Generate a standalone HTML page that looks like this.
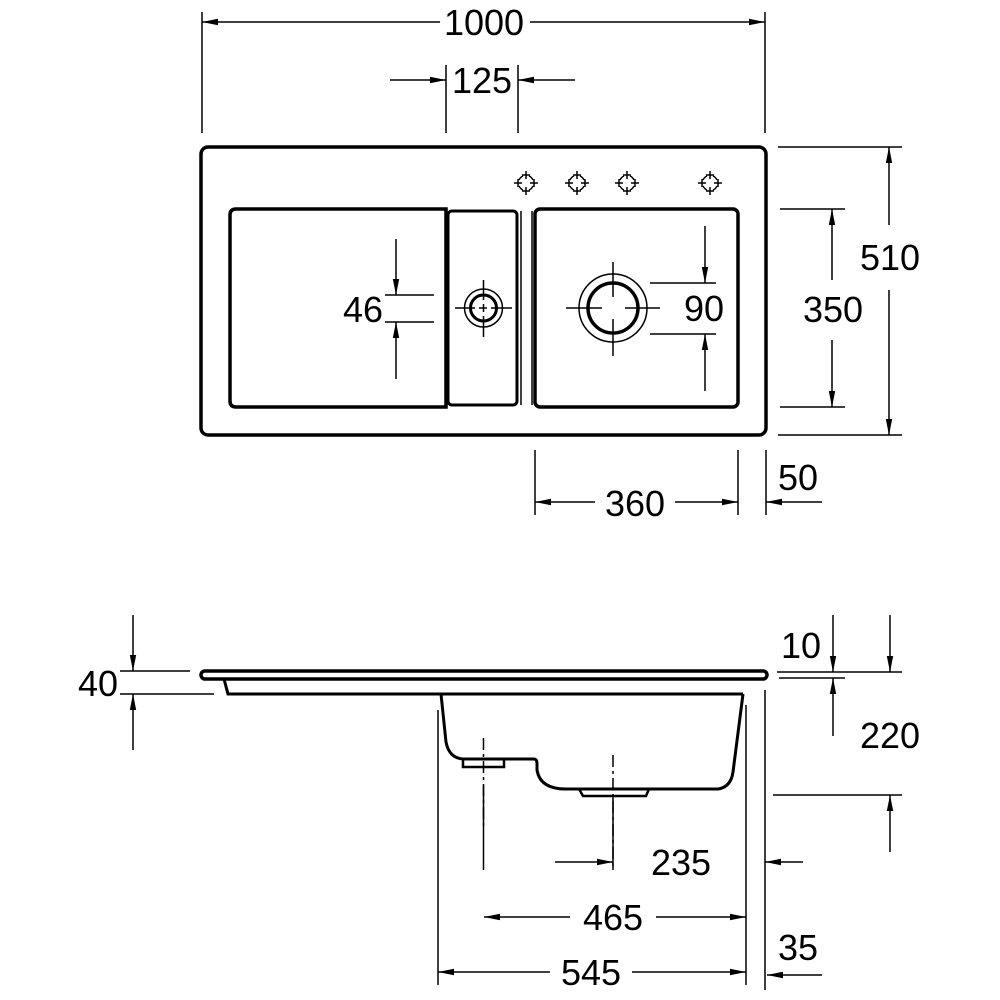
<!DOCTYPE html>
<html><head><meta charset="utf-8"><style>
html,body{margin:0;padding:0;background:#fff}
svg{display:block}
text{font-family:"Liberation Sans",Arial,sans-serif;font-size:36px;fill:#000}
</style></head><body>
<svg width="1000" height="1000" viewBox="0 0 1000 1000" xmlns="http://www.w3.org/2000/svg">
<defs>
<marker id="a" markerWidth="16" markerHeight="8" refX="16" refY="4" orient="auto" markerUnits="userSpaceOnUse">
<path d="M0,0.8 L16,4 L0,7.2 Z" fill="#000"/>
</marker>
</defs>
<g stroke="#000" fill="none" stroke-width="1.5">
<!-- top dims -->
<line x1="202" y1="12" x2="202" y2="133"/>
<line x1="765" y1="12" x2="765" y2="133"/>
<line x1="440" y1="22" x2="202" y2="22" marker-end="url(#a)"/>
<line x1="530" y1="22" x2="765" y2="22" marker-end="url(#a)"/>
<line x1="446" y1="65" x2="446" y2="133"/>
<line x1="518" y1="65" x2="518" y2="133"/>
<line x1="390" y1="80" x2="446" y2="80" marker-end="url(#a)"/>
<line x1="575" y1="80" x2="518" y2="80" marker-end="url(#a)"/>
<!-- top view -->
<rect x="201" y="147" width="565" height="288" rx="7" stroke-width="3.5"/>
<path d="M236,209 H446 V407 H236 Q230,407 230,401 V215 Q230,209 236,209 Z" stroke-width="3.5"/>
<rect x="448" y="211" width="69" height="194" rx="4" stroke-width="3"/>
<line x1="521" y1="211" x2="521" y2="405"/>
<line x1="532" y1="211" x2="532" y2="405"/>
<rect x="535" y="209" width="203" height="198" rx="5" stroke-width="3.5"/>
<!-- small drain -->
<circle cx="483.5" cy="308" r="19"/>
<circle cx="483.5" cy="308" r="13" stroke-width="3"/>
<line x1="455" y1="308" x2="512" y2="308" stroke-dasharray="20,4,8,4,30"/>
<line x1="483.5" y1="280" x2="483.5" y2="337" stroke-dasharray="20,4,8,4,30"/>
<!-- large drain -->
<circle cx="613" cy="308" r="34"/>
<circle cx="613" cy="308" r="25" stroke-width="3.5"/>
<line x1="566" y1="308" x2="602" y2="308"/>
<line x1="625" y1="308" x2="660" y2="308"/>
<line x1="613" y1="262" x2="613" y2="297"/>
<line x1="613" y1="319" x2="613" y2="356"/>
<!-- 46 -->
<line x1="385" y1="295" x2="434" y2="295"/>
<line x1="385" y1="322" x2="434" y2="322"/>
<line x1="396" y1="239" x2="396" y2="295" marker-end="url(#a)"/>
<line x1="396" y1="379" x2="396" y2="322" marker-end="url(#a)"/>
<!-- 90 -->
<line x1="650" y1="283" x2="716" y2="283"/>
<line x1="650" y1="334" x2="716" y2="334"/>
<line x1="705" y1="226" x2="705" y2="283" marker-end="url(#a)"/>
<line x1="705" y1="391" x2="705" y2="334" marker-end="url(#a)"/>
<!-- right dims -->
<line x1="778" y1="147" x2="902" y2="147"/>
<line x1="778" y1="435" x2="902" y2="435"/>
<line x1="889" y1="225" x2="889" y2="147" marker-end="url(#a)"/>
<line x1="889" y1="290" x2="889" y2="435" marker-end="url(#a)"/>
<line x1="780" y1="209" x2="845" y2="209"/>
<line x1="780" y1="407" x2="845" y2="407"/>
<line x1="832" y1="280" x2="832" y2="209" marker-end="url(#a)"/>
<line x1="832" y1="340" x2="832" y2="407" marker-end="url(#a)"/>
<!-- bottom dims top view -->
<line x1="535" y1="450" x2="535" y2="515"/>
<line x1="738" y1="450" x2="738" y2="515"/>
<line x1="766" y1="450" x2="766" y2="515"/>
<line x1="595" y1="502" x2="535" y2="502" marker-end="url(#a)"/>
<line x1="675" y1="502" x2="738" y2="502" marker-end="url(#a)"/>
<line x1="822" y1="502" x2="766" y2="502" marker-end="url(#a)"/>
<!-- side view -->
<rect x="201" y="671" width="566" height="8" rx="4" stroke-width="3.5"/>
<path d="M224,679 L228,694 H743" stroke-width="3"/>
<path d="M441,694 L446,742 Q449,758 463,759 H534 Q537,759 537,764 V770 Q540,789 566,789 H718 Q731,787 733,772 L743,694" stroke-width="3"/>
<rect x="463" y="759" width="41" height="8" stroke-width="2.5"/>
<path d="M579,789 L583,796 H646 L649,789" stroke-width="2.5"/>
<line x1="483.5" y1="738" x2="483.5" y2="830" stroke-dasharray="12,4,3,4"/>
<line x1="483.5" y1="785" x2="483.5" y2="870"/>
<line x1="613" y1="755" x2="613" y2="870" stroke-dasharray="12,4,3,4"/>
<line x1="613" y1="795" x2="613" y2="870"/>
<line x1="438" y1="710" x2="438" y2="985"/>
<line x1="746" y1="705" x2="746" y2="985"/>
<line x1="765" y1="690" x2="765" y2="990"/>
<!-- 40 -->
<line x1="120" y1="671" x2="190" y2="671"/>
<line x1="120" y1="694" x2="214" y2="694"/>
<line x1="133" y1="615" x2="133" y2="671" marker-end="url(#a)"/>
<line x1="133" y1="750" x2="133" y2="694" marker-end="url(#a)"/>
<!-- 10 / 220 -->
<line x1="777" y1="672" x2="902" y2="672"/>
<line x1="779" y1="678" x2="845" y2="678"/>
<line x1="833" y1="615" x2="833" y2="672" marker-end="url(#a)"/>
<line x1="833" y1="736" x2="833" y2="678" marker-end="url(#a)"/>
<line x1="890" y1="615" x2="890" y2="672" marker-end="url(#a)"/>
<line x1="773" y1="795" x2="902" y2="795"/>
<line x1="890" y1="852" x2="890" y2="795" marker-end="url(#a)"/>
<!-- 235 -->
<line x1="555" y1="862" x2="613" y2="862" marker-end="url(#a)"/>
<line x1="803" y1="862" x2="765" y2="862" marker-end="url(#a)"/>
<!-- 465 -->
<line x1="570" y1="917" x2="484" y2="917" marker-end="url(#a)"/>
<line x1="656" y1="917" x2="746" y2="917" marker-end="url(#a)"/>
<!-- 545 -->
<line x1="550" y1="972" x2="438" y2="972" marker-end="url(#a)"/>
<line x1="632" y1="972" x2="746" y2="972" marker-end="url(#a)"/>
<line x1="822" y1="975" x2="767" y2="975" marker-end="url(#a)"/>
</g>
<!-- tap holes -->
<g stroke="#000" stroke-width="1.5" fill="none">
<g id="t" transform="translate(526,183)">
<path d="M-4,-8 H4 M0,-12 V-4 M-4,8 H4 M0,4 V12 M-8,-4 V4 M-12,0 H-4 M8,-4 V4 M4,0 H12"/>
<path d="M-3,-7 A8,8 0 0 0 -7,-3 M3,-7 A8,8 0 0 1 7,-3 M-3,7 A8,8 0 0 1 -7,3 M3,7 A8,8 0 0 0 7,3"/>
</g>
<use href="#t" x="51" y="0"/>
<use href="#t" x="101" y="0"/>
<use href="#t" x="184" y="0"/>
</g>
<g>
<text x="484" y="35" text-anchor="middle">1000</text>
<text x="482" y="93" text-anchor="middle">125</text>
<text x="383" y="322" text-anchor="end">46</text>
<text x="704" y="321" text-anchor="middle">90</text>
<text x="890" y="270" text-anchor="middle">510</text>
<text x="833" y="322" text-anchor="middle">350</text>
<text x="635" y="516" text-anchor="middle">360</text>
<text x="798" y="490" text-anchor="middle">50</text>
<text x="98" y="696" text-anchor="middle">40</text>
<text x="801" y="658" text-anchor="middle">10</text>
<text x="890" y="748" text-anchor="middle">220</text>
<text x="681" y="875" text-anchor="middle">235</text>
<text x="613" y="930" text-anchor="middle">465</text>
<text x="591" y="985" text-anchor="middle">545</text>
<text x="798" y="960" text-anchor="middle">35</text>
</g>
</svg>
</body></html>
